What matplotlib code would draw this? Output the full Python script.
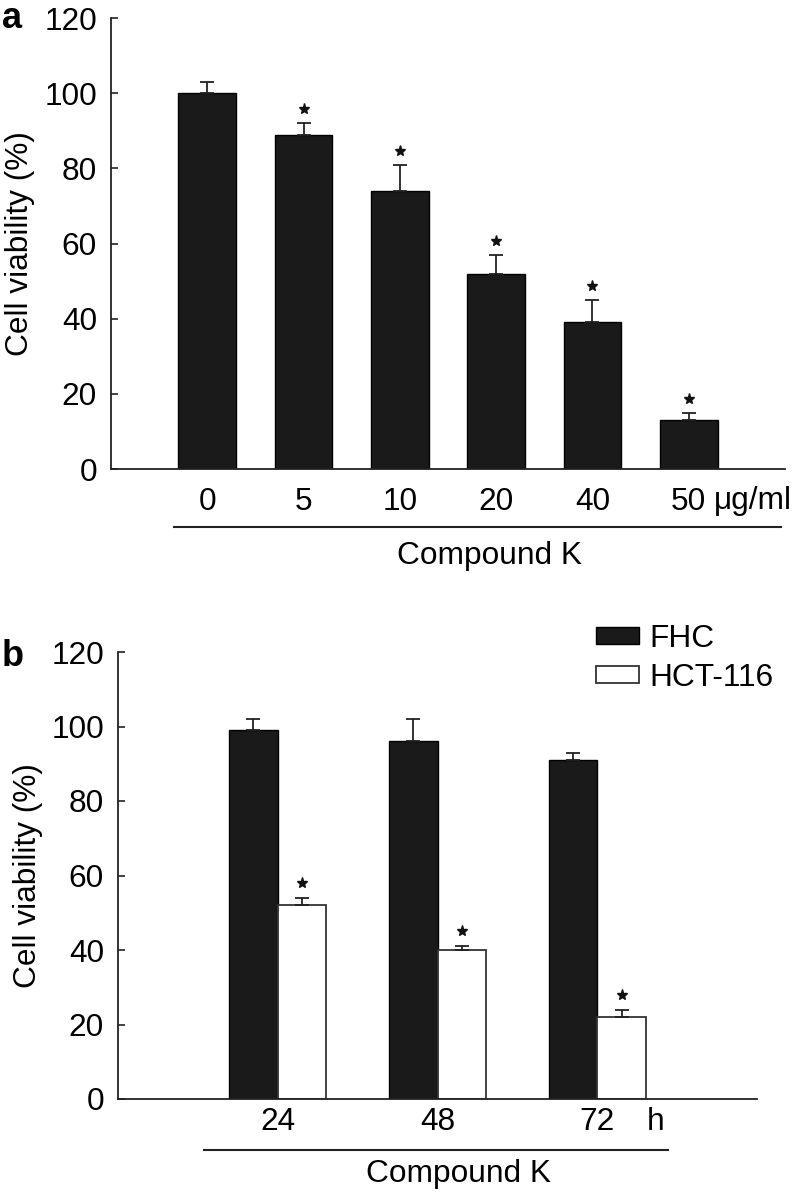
import matplotlib
matplotlib.use("Agg")
import matplotlib.pyplot as plt
from matplotlib.lines import Line2D
from matplotlib.patches import Patch
from matplotlib.transforms import offset_copy
import numpy as np

plt.rcParams['font.family'] = ['Liberation Sans', 'DejaVu Sans']

# ---- data ----
a_labels = ["0", "5", "10", "20", "40", "50"]
a_means = [100, 89, 74, 52, 39, 13]
a_sd = [3, 3, 7, 5, 6, 2]
a_sig = [False, True, True, True, True, True]

b_labels = ["24", "48", "72"]
fhc_means = [99, 96, 91]
fhc_sd = [3, 6, 2]
hct_means = [52, 40, 22]
hct_sd = [2, 1, 2]
hct_sig = [True, True, True]

yticks = [0, 20, 40, 60, 80, 100, 120]

W, H = 797, 1194
fig = plt.figure(figsize=(W / 100, H / 100), dpi=100)

def fx(x):
    return x / W

def fy(y):
    return 1 - y / H

FS = 22.8
DARK = '#1a1a1a'
LINE = '#222222'

def style_axes(ax, xpad):
    for s in ['top', 'right']:
        ax.spines[s].set_visible(False)
    for s in ['left', 'bottom']:
        ax.spines[s].set_color(LINE)
        ax.spines[s].set_linewidth(1.3)
    ax.set_ylim(0, 120)
    ax.set_yticks(yticks)
    ax.tick_params(axis='y', direction='in', length=5, width=1.2,
                   color=LINE, pad=10, labelsize=FS)
    ax.tick_params(axis='x', length=0, pad=xpad, labelsize=FS)

# ---- panel a ----
axa = fig.add_axes([fx(111), fy(469), fx(785 - 111), (469 - 18) / H])
xa = np.arange(len(a_labels))
axa.bar(xa, a_means, width=0.6, color=DARK, edgecolor='black', linewidth=1.0, zorder=2)
axa.errorbar(xa, a_means, yerr=[np.zeros(len(a_sd)), a_sd], fmt='none',
             ecolor=LINE, elinewidth=1.3, capsize=5, capthick=1.3, zorder=3)
star_tr_a = offset_copy(axa.transData, fig=fig, y=14, units='dots')
for xi, m, s, sig in zip(xa, a_means, a_sd, a_sig):
    if sig:
        axa.plot([xi], [m + s], marker='*', color='#111111', markersize=8,
                 linestyle='none', transform=star_tr_a, zorder=4)
axa.set_xlim(-1, 6)
axa.set_xticks(xa)
axa.set_xticklabels(a_labels)
style_axes(axa, xpad=13)

fig.text(fx(714), fy(501), "μg/ml", fontsize=FS, ha='left', va='center')
fig.add_artist(Line2D([fx(174), fx(781)], [fy(527), fy(527)], color=LINE, linewidth=1.5))
fig.text(fx(490), fy(556), "Compound K", fontsize=FS, ha='center', va='center')
fig.text(fx(20), fy(243.5), "Cell viability (%)", fontsize=FS, rotation=90,
         ha='center', va='center')
fig.text(fx(2), fy(28), "a", fontsize=26, fontweight='bold', ha='left', va='baseline')

# ---- panel b ----
axb = fig.add_axes([fx(118), fy(1099), fx(757 - 118), (1099 - 652) / H])
xb = np.arange(len(b_labels))
bw = 0.304
axb.bar(xb - bw / 2, fhc_means, width=bw, color=DARK, edgecolor='black',
        linewidth=1.0, zorder=2, label='FHC')
axb.bar(xb + bw / 2, hct_means, width=bw, color='white', edgecolor='#333333',
        linewidth=1.3, zorder=2, label='HCT-116')
axb.errorbar(xb - bw / 2, fhc_means, yerr=[np.zeros(len(fhc_sd)), fhc_sd], fmt='none',
             ecolor=LINE, elinewidth=1.3, capsize=5, capthick=1.3, zorder=3)
axb.errorbar(xb + bw / 2, hct_means, yerr=[np.zeros(len(hct_sd)), hct_sd], fmt='none',
             ecolor=LINE, elinewidth=1.3, capsize=5, capthick=1.3, zorder=3)
star_tr_b = offset_copy(axb.transData, fig=fig, y=15, units='dots')
for xi, m, s, sig in zip(xb, hct_means, hct_sd, hct_sig):
    if sig:
        axb.plot([xi + bw / 2], [m + s], marker='*', color='#111111', markersize=8,
                 linestyle='none', transform=star_tr_b, zorder=4)
axb.set_xlim(-1, 3)
axb.set_xticks(xb)
axb.set_xticklabels(b_labels)
style_axes(axb, xpad=6)

handles = [Patch(facecolor=DARK, edgecolor='black', linewidth=1.0),
           Patch(facecolor='white', edgecolor='#333333', linewidth=1.3)]
fig.legend(handles, ['FHC', 'HCT-116'], loc='upper left',
           bbox_to_anchor=(fx(596), fy(624)), bbox_transform=fig.transFigure,
           frameon=False, fontsize=FS, handlelength=1.35, handleheight=0.42,
           handletextpad=0.35, labelspacing=0.28, borderpad=0, borderaxespad=0)

fig.text(fx(647), fy(1122), "h", fontsize=FS, ha='left', va='center')
fig.add_artist(Line2D([fx(204), fx(668)], [fy(1150), fy(1150)], color=LINE, linewidth=1.5))
fig.text(fx(459), fy(1174), "Compound K", fontsize=FS, ha='center', va='center')
fig.text(fx(28), fy(875.5), "Cell viability (%)", fontsize=FS, rotation=90,
         ha='center', va='center')
fig.text(fx(2), fy(666), "b", fontsize=26, fontweight='bold', ha='left', va='baseline')

fig.savefig("out.png", dpi=100)
